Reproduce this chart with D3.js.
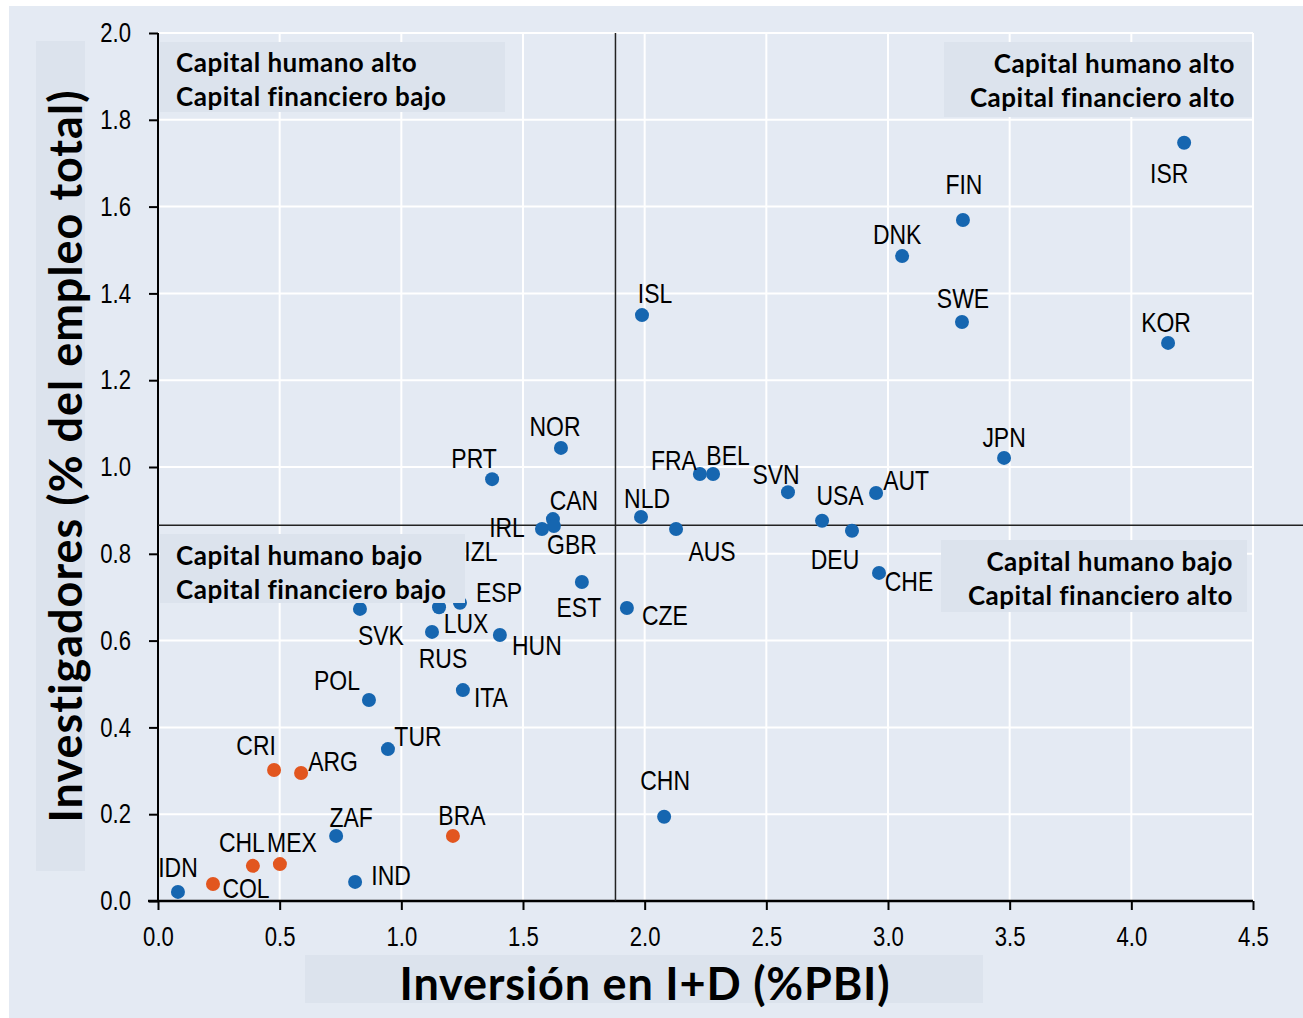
<!DOCTYPE html>
<html>
<head>
<meta charset="utf-8">
<script src="https://cdn.jsdelivr.net/npm/d3@7"></script>
<style>
  body { margin: 0; background: #ffffff; }
</style>
</head>
<body>
<script>
// country codes, x = R&D spend (% GDP), y = researchers (% of employment)
var codes = ["ISR","FIN","DNK","SWE","KOR","ISL","JPN","NOR","PRT","FRA","BEL","SVN","AUT","USA","DEU","CHE",
             "NLD","AUS","CAN","IRL","GBR","IZL","ESP","LUX","SVK","RUS","HUN","EST","CZE","POL","ITA","TUR",
             "CRI","ARG","CHN","ZAF","BRA","CHL","MEX","IDN","COL","IND"];
var rdSpend = [4.217,3.308,3.058,3.304,4.151,1.989,3.477,1.656,1.373,2.227,2.281,2.589,2.951,2.729,2.852,2.963,
               1.985,2.129,1.623,1.578,1.627,1.208,1.241,1.155,0.830,1.126,1.405,1.742,1.927,0.867,1.253,0.945,
               0.477,0.588,2.080,0.732,1.212,0.390,0.501,0.082,0.226,0.810];
var researchers = [1.747,1.569,1.486,1.334,1.286,1.350,1.021,1.044,0.972,0.984,0.984,0.942,0.940,0.876,0.853,0.756,
                   0.885,0.857,0.880,0.857,0.864,0.744,0.687,0.677,0.673,0.620,0.613,0.735,0.675,0.463,0.486,0.350,
                   0.302,0.295,0.194,0.150,0.150,0.081,0.085,0.021,0.039,0.044];
var latam = ["CRI","ARG","BRA","CHL","MEX","COL"];

var xTicks = [0, 0.5, 1, 1.5, 2, 2.5, 3, 3.5, 4, 4.5];
var yTicks = [0, 0.2, 0.4, 0.6, 0.8, 1.0, 1.2, 1.4, 1.6, 1.8, 2.0];
var xAvg = 1.88, yAvg = 0.866;

var quadLines = [
  ["Capital humano alto", "Capital financiero bajo"],
  ["Capital humano alto", "Capital financiero alto"],
  ["Capital humano bajo", "Capital financiero bajo"],
  ["Capital humano bajo", "Capital financiero alto"]
];

// label placement relative to each dot (centre x, baseline y), in px
var nudge = {
  ISR:[-15,40], FIN:[1,-26], DNK:[-5,-12], SWE:[1,-14], KOR:[-2,-11], ISL:[13,-12], JPN:[0,-11],
  NOR:[-6,-12], PRT:[-18,-11], FRA:[-26,-4], BEL:[15,-9], SVN:[-12,-8], AUT:[30,-3], USA:[18,-16],
  DEU:[-17,38], CHE:[30,18], NLD:[6,-9], AUS:[36,32], CAN:[21,-9], IRL:[-35,8], GBR:[18,28],
  IZL:[29,-17], ESP:[39,-1], LUX:[27,26], SVK:[21,36], RUS:[11,36], HUN:[37,20], EST:[-3,35],
  CZE:[38,17], POL:[-32,-10], ITA:[28,17], TUR:[30,-3], CRI:[-18,-15], ARG:[32,-2], CHN:[1,-27],
  ZAF:[15,-9], BRA:[9,-11], CHL:[-11,-14], MEX:[12,-12], IDN:[0,-15], COL:[33,14], IND:[36,3]
};

window.onload = function(){

    var w = 1303, h = 1018;
    var left = 158, top = 33, right = 1253, bottom = 901;
    var bg = "#e4eaf3", boxFill = "#dce3ed";
    var blue = "#1666b0", orange = "#e2561f";
    var narrow = 0.82; // squeeze Liberation Sans to look like Arial Narrow
    var sansN = "'Liberation Sans', Arial, sans-serif";
    var boldF = "Lato, 'Open Sans', sans-serif";

    var svg = d3.select("body").append("svg")
        .attr("width", w)
        .attr("height", h);

    svg.append("rect")
        .attr("x", 9).attr("y", 6)
        .attr("width", w - 9).attr("height", h - 6)
        .style("fill", bg);

    var x = d3.scaleLinear().domain([0, 4.5]).range([left, right]);
    var y = d3.scaleLinear().domain([0, 2]).range([bottom, top]);

    // white grid
    svg.append("g").selectAll("line").data(xTicks.slice(1)).enter().append("line")
        .attr("x1", function(d){ return x(d); }).attr("x2", function(d){ return x(d); })
        .attr("y1", top).attr("y2", bottom)
        .style("stroke", "#ffffff").style("stroke-width", 2);
    svg.append("g").selectAll("line").data(yTicks.slice(1)).enter().append("line")
        .attr("x1", left).attr("x2", right)
        .attr("y1", function(d){ return y(d); }).attr("y2", function(d){ return y(d); })
        .style("stroke", "#ffffff").style("stroke-width", 2);

    // y title box + x title box
    svg.append("rect").attr("x", 36).attr("y", 41).attr("width", 49).attr("height", 830).style("fill", boxFill);
    svg.append("rect").attr("x", 305).attr("y", 955).attr("width", 678).attr("height", 48).style("fill", boxFill);

    // axes
    svg.append("g")
        .attr("transform", "translate(0," + bottom + ")")
        .call(d3.axisBottom(x).tickValues(xTicks).tickFormat(d3.format(".1f")).tickSize(9).tickPadding(17));
    var yAxis = svg.append("g")
        .attr("transform", "translate(" + left + ",0)")
        .call(d3.axisLeft(y).tickValues(yTicks).tickFormat(d3.format(".1f")).tickSize(9).tickPadding(18));
    svg.selectAll(".domain").remove();
    svg.selectAll(".tick line").style("stroke", "#000").style("stroke-width", 2);
    svg.selectAll(".tick text")
        .style("font-family", sansN).style("font-size", "27px").style("fill", "#000")
        .attr("transform", "scale(" + narrow + ",1)");
    yAxis.selectAll(".tick text").attr("x", -27 / narrow);

    svg.append("line").attr("x1", 148).attr("x2", right).attr("y1", bottom).attr("y2", bottom)
        .style("stroke", "#000").style("stroke-width", 2.5);
    svg.append("line").attr("x1", left).attr("x2", left).attr("y1", top).attr("y2", bottom)
        .style("stroke", "#000").style("stroke-width", 2);

    // average lines
    svg.append("line").attr("x1", x(xAvg)).attr("x2", x(xAvg)).attr("y1", top).attr("y2", bottom)
        .style("stroke", "#222").style("stroke-width", 1.5);
    svg.append("line").attr("x1", left).attr("x2", w).attr("y1", y(yAvg)).attr("y2", y(yAvg))
        .style("stroke", "#222").style("stroke-width", 1.5);

    // points
    var pts = codes.map(function(c, i){ return {code: c, x: rdSpend[i], y: researchers[i]}; });
    svg.append("g").selectAll("circle").data(pts).enter().append("circle")
        .attr("cx", function(d){ return x(d.x); })
        .attr("cy", function(d){ return y(d.y); })
        .attr("r", 7)
        .style("fill", function(d){ return latam.indexOf(d.code) >= 0 ? orange : blue; });

    // quadrant boxes
    var boxes = [
        {x: 160, y: 42, w: 345, h: 70, anchor: "start", tx: 176, ty: 72},
        {x: 944, y: 42, w: 308, h: 75, anchor: "end", tx: 1235, ty: 73},
        {x: 160, y: 534, w: 305, h: 69, anchor: "start", tx: 176, ty: 565},
        {x: 941, y: 540, w: 306, h: 72, anchor: "end", tx: 1233, ty: 571}
    ];
    boxes.forEach(function(b, i){
        svg.append("rect").attr("x", b.x).attr("y", b.y).attr("width", b.w).attr("height", b.h)
            .style("fill", boxFill);
        svg.append("text")
            .attr("x", b.tx).attr("y", b.ty)
            .attr("text-anchor", b.anchor)
            .style("font-family", boldF)
            .style("font-weight", "bold").style("font-size", "26px")
            .style("letter-spacing", "0.5px")
            .selectAll("tspan").data(quadLines[i]).enter().append("tspan")
            .attr("x", b.tx)
            .attr("dy", function(d, j){ return j ? 34 : 0; })
            .text(function(d){ return d; });
    });

    // country labels
    svg.append("g").selectAll("text").data(pts).enter().append("text")
        .attr("transform", function(d){
            return "translate(" + (x(d.x) + nudge[d.code][0]) + "," + (y(d.y) + nudge[d.code][1]) + ") scale(" + narrow + ",1)";
        })
        .attr("text-anchor", "middle")
        .style("font-family", sansN)
        .style("font-size", "28px")
        .text(function(d){ return d.code; });

    // axis titles
    svg.append("text")
        .attr("transform", "translate(82,456) rotate(-90)")
        .attr("text-anchor", "middle")
        .style("font-family", boldF)
        .style("font-weight", "bold").style("font-size", "45px")
        .style("letter-spacing", "1px")
        .text("Investigadores (% del empleo total)");
    svg.append("text")
        .attr("x", 645).attr("y", 1000)
        .attr("text-anchor", "middle")
        .style("font-family", boldF)
        .style("font-weight", "bold").style("font-size", "45px")
        .style("letter-spacing", "0.8px")
        .text("Inversión en I+D (%PBI)");
};
</script>
</body>
</html>
